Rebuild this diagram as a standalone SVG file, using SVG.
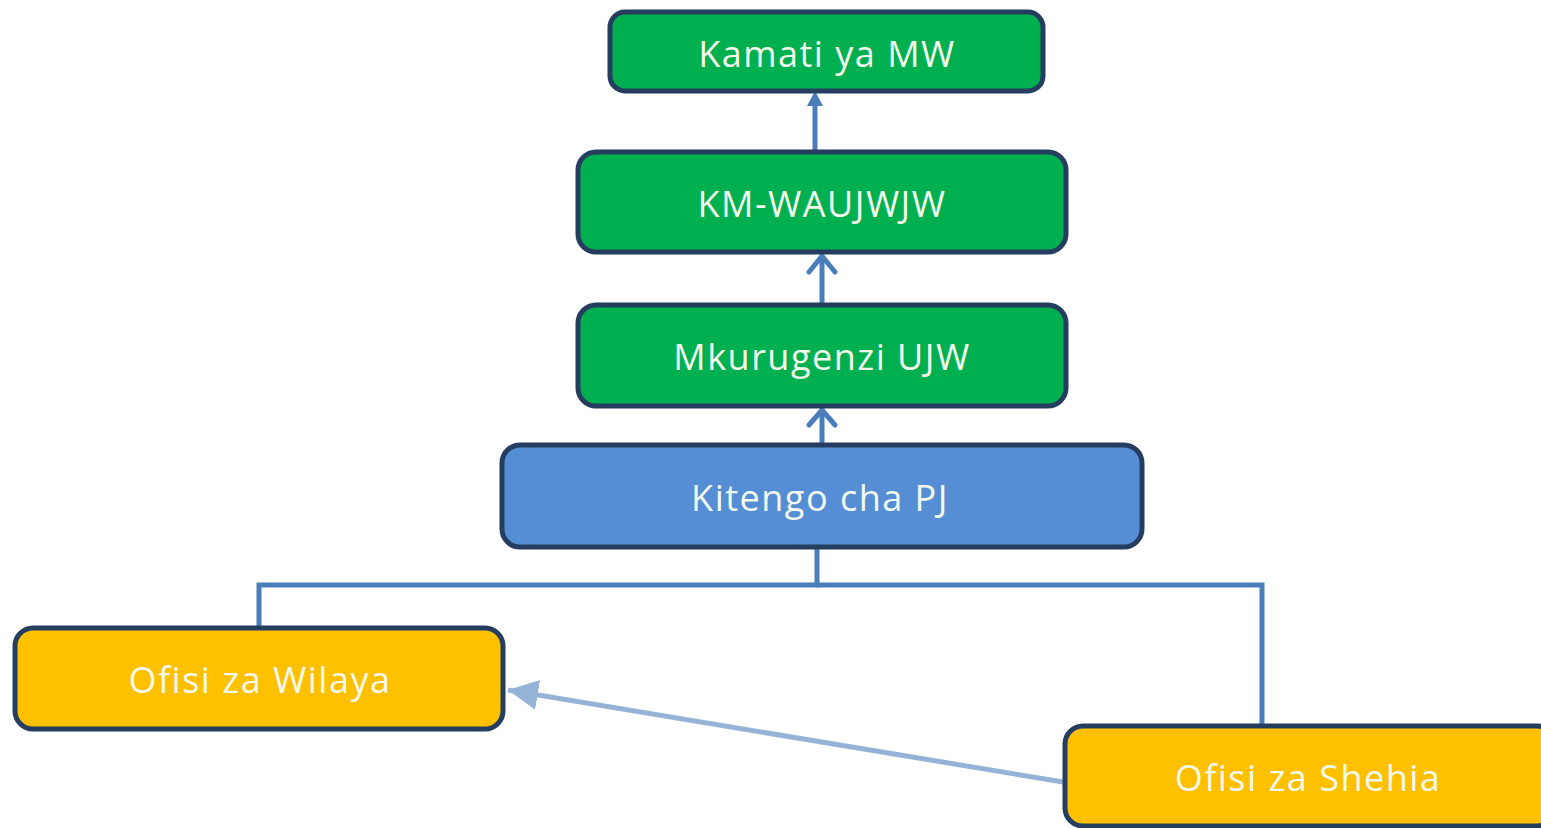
<svg xmlns="http://www.w3.org/2000/svg" width="1541" height="828" viewBox="0 0 1541 828">
<defs>
<style>
.box{stroke:#253d5e;stroke-width:5}
.g{fill:#00b050}
.b{fill:#558ed5}
.y{fill:#ffc000}
.t{font-family:"Open Sans","Noto Sans",sans-serif;font-size:36px;letter-spacing:1.5px;fill:#f4f9ee;text-anchor:middle}
.c{fill:none;stroke:#4a7ebb;stroke-width:5}
.ah{fill:none;stroke:#4a7ebb;stroke-width:5;stroke-linecap:round;stroke-linejoin:round}
</style>
<marker id="tri" markerWidth="6" markerHeight="6" refX="6" refY="3" orient="auto" markerUnits="strokeWidth">
<path d="M0,0 L6,3 L0,6 Z" fill="#95b3d7"/>
</marker>
</defs>
<rect width="1541" height="828" fill="#ffffff"/>
<g id="connectors">
<line class="c" x1="815" y1="152" x2="815" y2="100" stroke-width="7"/>
<path d="M807,106 L815,91 L823,106 Z" fill="#4a7ebb"/>
<line class="c" x1="822" y1="304" x2="822" y2="258"/>
<polyline class="ah" points="809,272 822,256 835,272"/>
<line class="c" x1="822" y1="445" x2="822" y2="410"/>
<polyline class="ah" points="809,425 822,410 835,425"/>
<polyline class="c" points="817,547 817,585 259,585 259,628"/>
<polyline class="c" points="817,585 1262,585 1262,726"/>
<line x1="1063" y1="782" x2="508" y2="690" stroke="#95b3d7" stroke-width="5" marker-end="url(#tri)"/>
</g>
<g id="n1"><rect class="box g" x="610" y="12" width="433" height="79" rx="15"/><text class="t" x="827" y="67">Kamati ya MW</text></g>
<g id="n2"><rect class="box g" x="578" y="152" width="488" height="100" rx="18"/><text class="t" x="822" y="217">KM-WAUJWJW</text></g>
<g id="n3"><rect class="box g" x="578" y="305" width="488" height="101" rx="18"/><text class="t" x="822" y="370">Mkurugenzi UJW</text></g>
<g id="n4"><rect class="box b" x="502" y="445" width="640" height="102" rx="18"/><text class="t" x="820" y="511">Kitengo cha PJ</text></g>
<g id="n5"><rect class="box y" x="15" y="628" width="488" height="101" rx="18"/><text class="t" x="260" y="693">Ofisi za Wilaya</text></g>
<g id="n6"><rect class="box y" x="1065" y="726" width="490" height="100" rx="18"/><text class="t" x="1308" y="791">Ofisi za Shehia</text></g>
</svg>
